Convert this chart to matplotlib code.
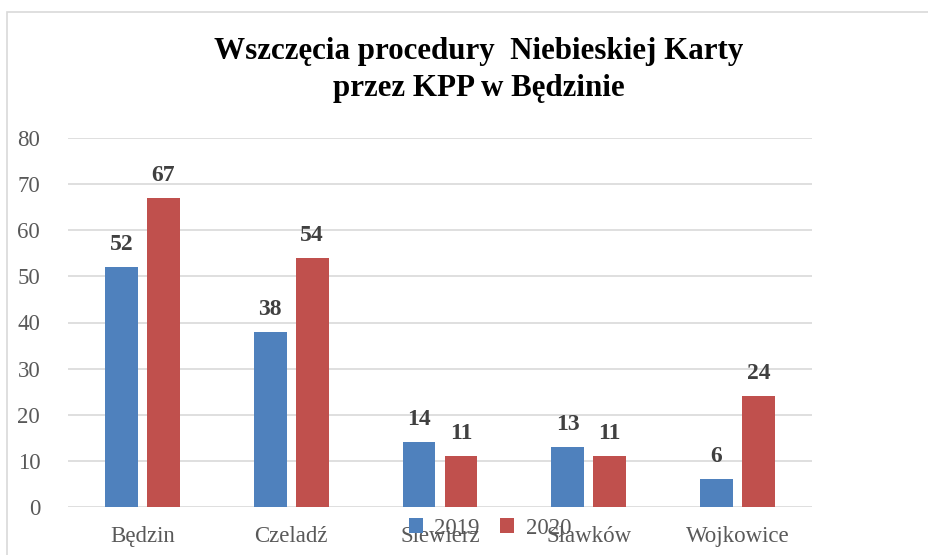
import matplotlib
matplotlib.use("Agg")
import matplotlib.pyplot as plt
import numpy as np
from matplotlib.patches import Rectangle

categories = ["Będzin", "Czeladź", "Siewierz", "Sławków", "Wojkowice"]
values_2019 = [52, 38, 14, 13, 6]
values_2020 = [67, 54, 11, 11, 24]
series_labels = ["2019", "2020"]
title = "Wszczęcia procedury  Niebieskiej Karty\nprzez KPP w Będzinie"

plt.rcParams['font.family'] = ['Liberation Serif', 'DejaVu Serif']

fig = plt.figure(figsize=(9.29, 5.55), dpi=100)
ax = fig.add_axes([68/929, 1-507/555, (812-68)/929, (507-138)/555])

x = np.arange(len(categories))
w = 0.22
off = 0.141
c1, c2 = "#4F81BD", "#C0504D"
b1 = ax.bar(x - off, values_2019, w, color=c1, label=series_labels[0], zorder=3)
b2 = ax.bar(x + off, values_2020, w, color=c2, label=series_labels[1], zorder=3)
for bars, vals in ((b1, values_2019), (b2, values_2020)):
    for b, v in zip(bars, vals):
        ax.text(b.get_x() + b.get_width()/2, v + 2.6, str(v), ha="center", va="bottom",
                fontsize=17, fontweight="bold", color="#404040")

ax.set_xlim(-0.5, len(categories) - 0.5)
ax.set_ylim(0, 80)
ax.set_yticks(range(0, 81, 10))
ax.yaxis.grid(True, color="#D9D9D9", linewidth=1.2, zorder=0)
for s in ax.spines.values():
    s.set_visible(False)
ax.tick_params(axis="both", length=0, labelsize=16.5, labelcolor="#595959")
ax.tick_params(axis="y", pad=20)
ax.tick_params(axis="x", pad=14)
ax.set_xticks(x)
ax.set_xticklabels(categories)

fig.text(479/929, 1-70/555, title, ha="center", va="center", fontsize=22.3,
         fontweight="bold", color="black", linespacing=1.35)

fig.legend(loc="center", bbox_to_anchor=(490/929, 1-528/555), ncol=2, frameon=False,
           fontsize=16.5, handlelength=0.6, handleheight=0.6, handletextpad=0.5,
           columnspacing=0.9, labelcolor="#595959")

fig.patches.append(Rectangle((7/929, -0.1), 1.2, (1-12/555)+0.1, transform=fig.transFigure,
                             fill=False, edgecolor="#D9D9D9", linewidth=1.2))

fig.savefig("out.png", dpi=100)
